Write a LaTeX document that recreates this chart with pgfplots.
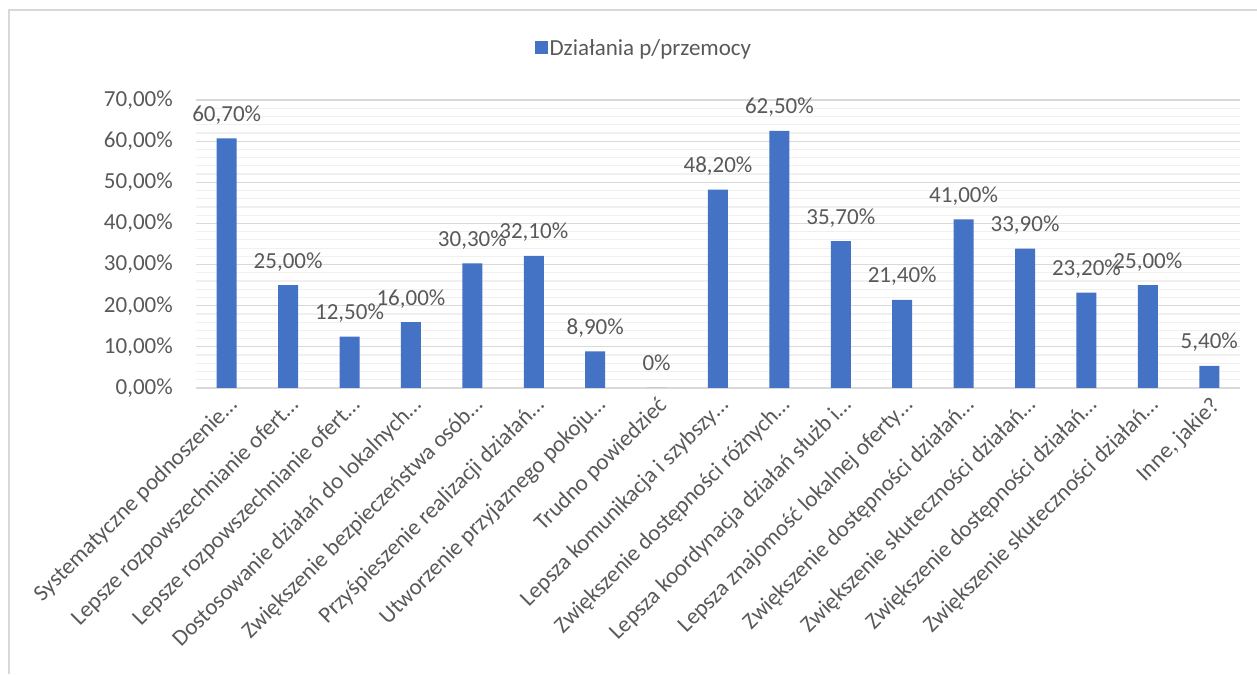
\documentclass[border=0pt]{standalone}
\usepackage{pgfplots}
\pgfplotsset{compat=1.18}
\usepackage{fontspec}
\setmainfont{Carlito}
\definecolor{barblue}{HTML}{4472C4}
\definecolor{textgray}{HTML}{595959}
\definecolor{majgray}{HTML}{D9D9D9}
\definecolor{mingray}{HTML}{F0F0F0}
\begin{document}
\begin{tikzpicture}
\path[use as bounding box] (0,0) rectangle (1257pt,674pt);
\draw[majgray, line width=1.2pt] (9pt,0) -- (9pt,664pt) -- (1257pt,664pt);
\begin{axis}[
  at={(196pt,286pt)}, anchor=south west,
  scale only axis, width=1044pt, height=288pt,
  ybar, bar width=20pt, bar shift=0pt,
  xmin=-0.5, xmax=16.5, ymin=0, ymax=70,
  xtick={0,...,16},
  xticklabels={
    {Systematyczne podnoszenie…},
    {Lepsze rozpowszechnianie ofert…},
    {Lepsze rozpowszechnianie ofert…},
    {Dostosowanie działań do lokalnych…},
    {Zwiększenie bezpieczeństwa osób…},
    {Przyśpieszenie realizacji działań…},
    {Utworzenie przyjaznego pokoju…},
    {Trudno powiedzieć},
    {Lepsza komunikacja i szybszy…},
    {Zwiększenie dostępności różnych…},
    {Lepsza koordynacja działań służb i…},
    {Lepsza znajomość lokalnej oferty…},
    {Zwiększenie dostępności działań…},
    {Zwiększenie skuteczności działań…},
    {Zwiększenie dostępności działań…},
    {Zwiększenie skuteczności działań…},
    {Inne, jakie?}},
  ytick={0,10,...,70},
  yticklabels={{0,00\%},{10,00\%},{20,00\%},{30,00\%},{40,00\%},{50,00\%},{60,00\%},{70,00\%}},
  minor y tick num=4,
  ymajorgrids, yminorgrids,
  major grid style={majgray, line width=1.2pt},
  minor grid style={mingray, line width=1.2pt},
  axis line style={draw=none},
  tick style={draw=none},
  tick label style={font=\fontsize{23}{27}\selectfont, text=textgray},
  yticklabel style={inner sep=0pt, xshift=-23pt},
  xticklabel style={rotate=45, anchor=north east, inner sep=2pt},
  point meta=explicit symbolic,
  nodes near coords,
  every node near coord/.append style={font=\fontsize{23}{27}\selectfont, text=textgray, anchor=base, yshift=17pt},
  legend style={at={(0.429,1.181)}, anchor=center, draw=none, fill=none,
    font=\fontsize{23}{27}\selectfont, text=textgray},
  legend image code/.code={\fill[barblue] (0pt,-6.5pt) rectangle (13pt,6.5pt);},
]
\addplot[fill=barblue, draw=none] coordinates {
  (0,60.7) [60,70\%]
  (1,25.0) [25,00\%]
  (2,12.5) [12,50\%]
  (3,16.0) [16,00\%]
  (4,30.3) [30,30\%]
  (5,32.1) [32,10\%]
  (6,8.9) [8,90\%]
  (7,0) [0\%]
  (8,48.2) [48,20\%]
  (9,62.5) [62,50\%]
  (10,35.7) [35,70\%]
  (11,21.4) [21,40\%]
  (12,41.0) [41,00\%]
  (13,33.9) [33,90\%]
  (14,23.2) [23,20\%]
  (15,25.0) [25,00\%]
  (16,5.4) [5,40\%]
};
\addlegendentry{Działania p/przemocy}
\end{axis}
\end{tikzpicture}
\end{document}
